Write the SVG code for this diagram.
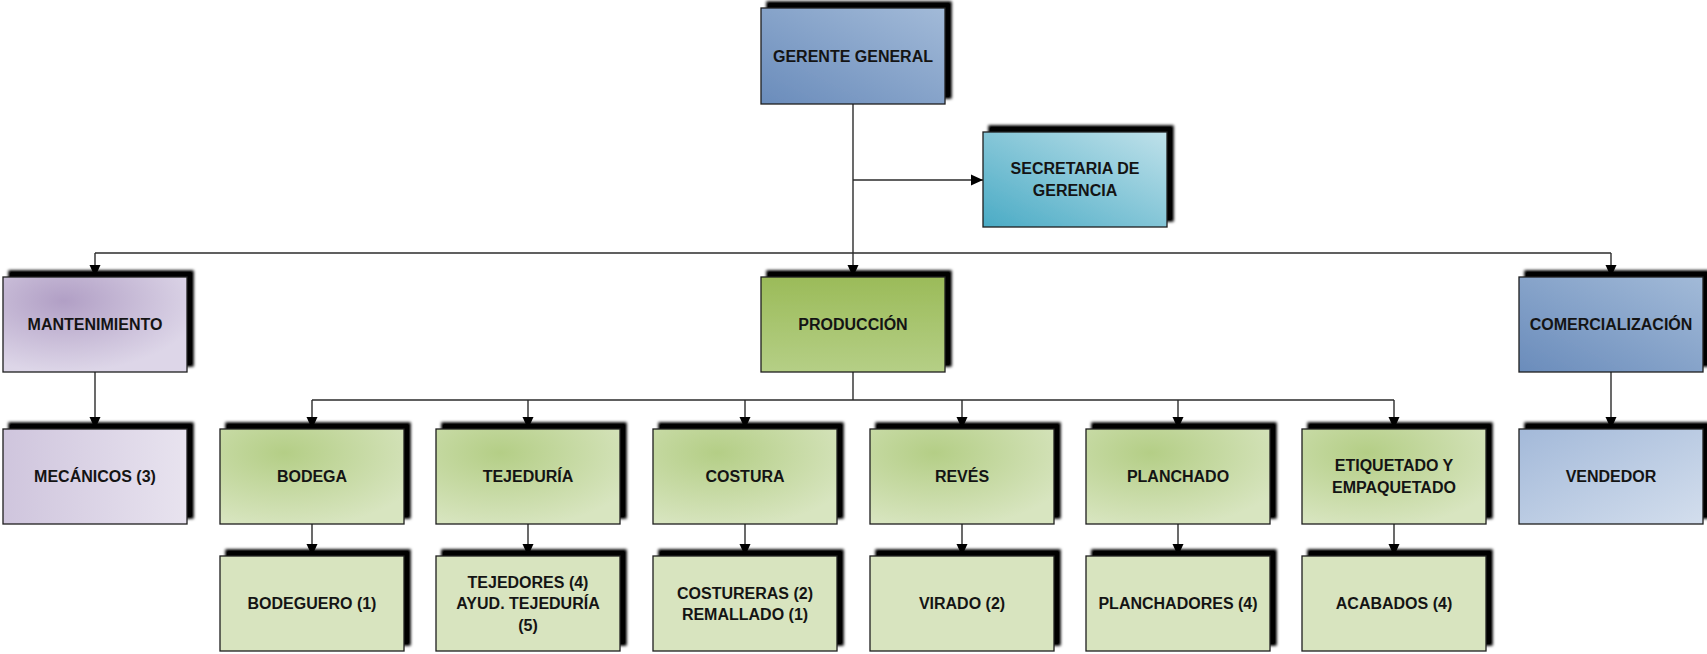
<svg xmlns="http://www.w3.org/2000/svg" width="1707" height="654" viewBox="0 0 1707 654">
<style>
.box{stroke:#1f1f1f;stroke-width:1.3}
.t{font-family:"Liberation Sans",Arial,sans-serif;font-weight:bold;font-size:16px;fill:#141414;text-anchor:middle}
.c{fill:none;stroke:#2b2b2b;stroke-width:1.4}
</style>
<defs>
<filter id="sh" x="-10%" y="-20%" width="125%" height="135%">
<feGaussianBlur in="SourceAlpha" stdDeviation="1.6" result="b"/>
<feOffset in="b" dx="6" dy="-6" result="o"/>
<feComponentTransfer in="o" result="o2"><feFuncA type="linear" slope="1.1"/></feComponentTransfer>
<feMerge><feMergeNode in="o2"/><feMergeNode in="SourceGraphic"/></feMerge>
</filter>
<linearGradient id="gBlue" x1="0" y1="1" x2="1" y2="0">
<stop offset="0" stop-color="#6a8cbb"/><stop offset="1" stop-color="#a2bad8"/>
</linearGradient>
<linearGradient id="gTeal" x1="0" y1="1" x2="1" y2="0">
<stop offset="0" stop-color="#4aabc5"/><stop offset="1" stop-color="#bfe1ea"/>
</linearGradient>
<radialGradient id="gPurple" cx="0.33" cy="0.25" r="0.75">
<stop offset="0" stop-color="#b19fc5"/><stop offset="1" stop-color="#ddd6e8"/>
</radialGradient>
<linearGradient id="gPurpleL" x1="0" y1="0" x2="1" y2="0">
<stop offset="0" stop-color="#cfc5dd"/><stop offset="1" stop-color="#e8e3ef"/>
</linearGradient>
<linearGradient id="gProd" x1="0" y1="0" x2="0" y2="1">
<stop offset="0" stop-color="#9bbb59"/><stop offset="1" stop-color="#b5cf86"/>
</linearGradient>
<radialGradient id="gGreen" cx="0.35" cy="0.25" r="0.8">
<stop offset="0" stop-color="#b4ce86"/><stop offset="1" stop-color="#d8e5c0"/>
</radialGradient>
<linearGradient id="gVend" x1="0" y1="0" x2="1" y2="1">
<stop offset="0" stop-color="#a3b9d9"/><stop offset="1" stop-color="#d3deed"/>
</linearGradient>
<marker id="ah" markerUnits="userSpaceOnUse" markerWidth="12" markerHeight="12" viewBox="0 0 12 12" refX="12" refY="6" orient="auto">
<path d="M0,0.5 L12,6 L0,11.5 Z" fill="#000"/>
</marker>
</defs>
<rect width="1707" height="654" fill="#fff"/>

<g id="connectors">
<path class="c" d="M853,104 V277" marker-end="url(#ah)"/>
<path class="c" d="M853,180 H983" marker-end="url(#ah)"/>
<path class="c" d="M95,253 H1611"/>
<path class="c" d="M95,253 V277" marker-end="url(#ah)"/>
<path class="c" d="M1611,253 V277" marker-end="url(#ah)"/>
<path class="c" d="M95,372 V429" marker-end="url(#ah)"/>
<path class="c" d="M1611,372 V429" marker-end="url(#ah)"/>
<path class="c" d="M853,372 V400"/>
<path class="c" d="M312,400 H1394"/>
<path class="c" d="M312,400 V429" marker-end="url(#ah)"/>
<path class="c" d="M528,400 V429" marker-end="url(#ah)"/>
<path class="c" d="M745,400 V429" marker-end="url(#ah)"/>
<path class="c" d="M962,400 V429" marker-end="url(#ah)"/>
<path class="c" d="M1178,400 V429" marker-end="url(#ah)"/>
<path class="c" d="M1394,400 V429" marker-end="url(#ah)"/>
<path class="c" d="M312,524 V556" marker-end="url(#ah)"/>
<path class="c" d="M528,524 V556" marker-end="url(#ah)"/>
<path class="c" d="M745,524 V556" marker-end="url(#ah)"/>
<path class="c" d="M962,524 V556" marker-end="url(#ah)"/>
<path class="c" d="M1178,524 V556" marker-end="url(#ah)"/>
<path class="c" d="M1394,524 V556" marker-end="url(#ah)"/>
</g>

<g id="gerente"><rect class="box" x="761" y="8" width="184" height="96" fill="url(#gBlue)" filter="url(#sh)"/><text class="t" x="853" y="61.5">GERENTE GENERAL</text></g>
<g id="secretaria"><rect class="box" x="983" y="132" width="184" height="95" fill="url(#gTeal)" filter="url(#sh)"/><text class="t" x="1075" y="174">SECRETARIA DE</text><text class="t" x="1075" y="196">GERENCIA</text></g>

<g id="mantenimiento"><rect class="box" x="3" y="277" width="184" height="95" fill="url(#gPurple)" filter="url(#sh)"/><text class="t" x="95" y="330">MANTENIMIENTO</text></g>
<g id="produccion"><rect class="box" x="761" y="277" width="184" height="95" fill="url(#gProd)" filter="url(#sh)"/><text class="t" x="853" y="330">PRODUCCIÓN</text></g>
<g id="comercializacion"><rect class="box" x="1519" y="277" width="184" height="95" fill="url(#gBlue)" filter="url(#sh)"/><text class="t" x="1611" y="330">COMERCIALIZACIÓN</text></g>

<g id="mecanicos"><rect class="box" x="3" y="429" width="184" height="95" fill="url(#gPurpleL)" filter="url(#sh)"/><text class="t" x="95" y="482">MECÁNICOS (3)</text></g>
<g id="bodega"><rect class="box" x="220" y="429" width="184" height="95" fill="url(#gGreen)" filter="url(#sh)"/><text class="t" x="312" y="482">BODEGA</text></g>
<g id="tejeduria"><rect class="box" x="436" y="429" width="184" height="95" fill="url(#gGreen)" filter="url(#sh)"/><text class="t" x="528" y="482">TEJEDURÍA</text></g>
<g id="costura"><rect class="box" x="653" y="429" width="184" height="95" fill="url(#gGreen)" filter="url(#sh)"/><text class="t" x="745" y="482">COSTURA</text></g>
<g id="reves"><rect class="box" x="870" y="429" width="184" height="95" fill="url(#gGreen)" filter="url(#sh)"/><text class="t" x="962" y="482">REVÉS</text></g>
<g id="planchado"><rect class="box" x="1086" y="429" width="184" height="95" fill="url(#gGreen)" filter="url(#sh)"/><text class="t" x="1178" y="482">PLANCHADO</text></g>
<g id="etiquetado"><rect class="box" x="1302" y="429" width="184" height="95" fill="url(#gGreen)" filter="url(#sh)"/><text class="t" x="1394" y="471">ETIQUETADO Y</text><text class="t" x="1394" y="493">EMPAQUETADO</text></g>
<g id="vendedor"><rect class="box" x="1519" y="429" width="184" height="95" fill="url(#gVend)" filter="url(#sh)"/><text class="t" x="1611" y="482">VENDEDOR</text></g>

<g id="bodeguero"><rect class="box" x="220" y="556" width="184" height="95" fill="#d8e4bf" filter="url(#sh)"/><text class="t" x="312" y="609">BODEGUERO (1)</text></g>
<g id="tejedores"><rect class="box" x="436" y="556" width="184" height="95" fill="#d8e4bf" filter="url(#sh)"/><text class="t" x="528" y="588">TEJEDORES (4)</text><text class="t" x="528" y="609">AYUD. TEJEDURÍA</text><text class="t" x="528" y="631">(5)</text></g>
<g id="costureras"><rect class="box" x="653" y="556" width="184" height="95" fill="#d8e4bf" filter="url(#sh)"/><text class="t" x="745" y="599">COSTURERAS (2)</text><text class="t" x="745" y="620">REMALLADO (1)</text></g>
<g id="virado"><rect class="box" x="870" y="556" width="184" height="95" fill="#d8e4bf" filter="url(#sh)"/><text class="t" x="962" y="609">VIRADO (2)</text></g>
<g id="planchadores"><rect class="box" x="1086" y="556" width="184" height="95" fill="#d8e4bf" filter="url(#sh)"/><text class="t" x="1178" y="609">PLANCHADORES (4)</text></g>
<g id="acabados"><rect class="box" x="1302" y="556" width="184" height="95" fill="#d8e4bf" filter="url(#sh)"/><text class="t" x="1394" y="609">ACABADOS (4)</text></g>
</svg>
